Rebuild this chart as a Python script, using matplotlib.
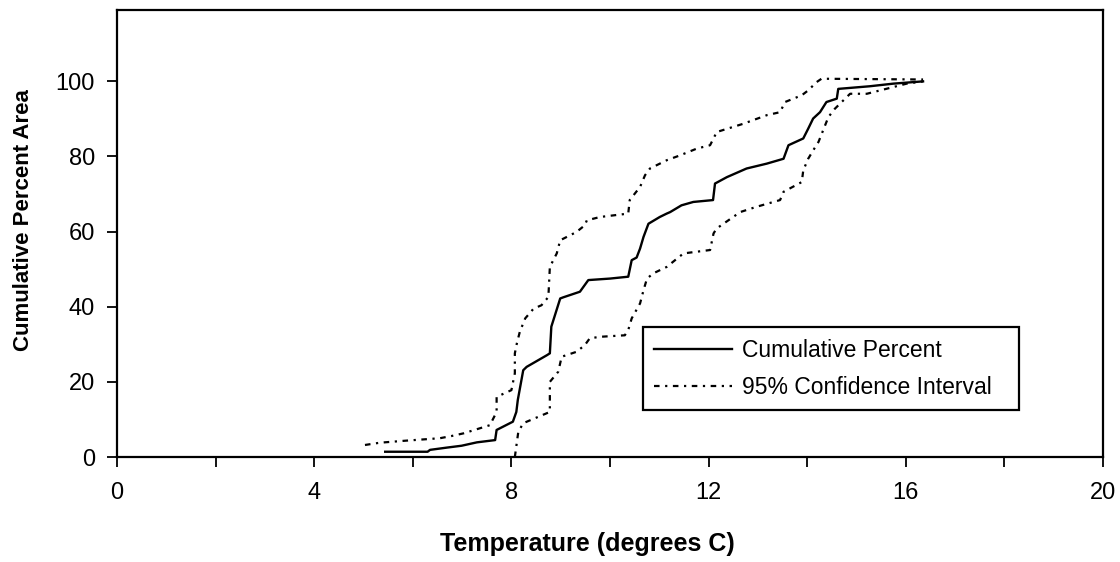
import matplotlib
matplotlib.use('Agg')
import matplotlib.pyplot as plt
from matplotlib.ticker import MultipleLocator

plt.rcParams['font.family'] = ['Liberation Sans', 'DejaVu Sans']

# cumulative percent area vs temperature
cum_x = [5.44, 6.30, 6.35, 6.69, 6.99, 7.30, 7.67, 7.70, 8.03, 8.10, 8.13, 8.24, 8.31,
         8.72, 8.78, 8.81, 8.99, 9.05, 9.39, 9.56, 10.0, 10.37, 10.44, 10.54, 10.61,
         10.68, 10.78, 11.01, 11.15, 11.22, 11.45, 11.69, 12.09, 12.13, 12.37, 12.77,
         13.18, 13.52, 13.62, 13.92, 14.02, 14.12, 14.26, 14.39, 14.60, 14.63, 15.27,
         15.75, 16.35]
cum_y = [1.4, 1.4, 1.9, 2.5, 3.0, 3.9, 4.5, 7.2, 9.4, 12.0, 15.2, 23.1, 24.0,
         27.1, 27.6, 34.7, 42.2, 42.5, 44.0, 47.1, 47.5, 48.0, 52.4, 53.1, 55.5,
         58.6, 62.1, 63.9, 64.8, 65.2, 67.0, 67.9, 68.4, 72.8, 74.5, 76.8,
         78.1, 79.4, 83.0, 84.8, 87.4, 90.1, 91.8, 94.5, 95.4, 98.0, 98.7,
         99.4, 100.0]

# upper 95% bound
up_x = [5.03, 5.33, 5.81, 6.55, 6.79, 7.03, 7.30, 7.57, 7.60, 7.70, 7.70, 8.00, 8.07,
        8.07, 8.11, 8.17, 8.24, 8.28, 8.45, 8.61, 8.75, 8.78, 8.92, 8.99, 9.32, 9.49,
        9.53, 9.80, 10.37, 10.40, 10.61, 10.71, 10.81, 11.15, 11.42, 11.76, 12.03,
        12.13, 12.16, 12.70, 13.18, 13.45, 13.55, 13.89, 14.02, 14.19, 14.29, 16.35]
up_y = [3.2, 3.8, 4.3, 5.0, 5.6, 6.3, 7.4, 8.5, 9.4, 12.0, 16.0, 17.8, 22.3,
        27.6, 30.2, 33.3, 35.6, 36.9, 39.5, 40.4, 42.6, 50.6, 54.2, 57.7, 59.9, 61.7,
        63.0, 63.9, 64.8, 68.4, 71.9, 75.0, 76.8, 79.0, 80.3, 82.1, 83.0,
        85.6, 86.5, 88.7, 91.0, 91.8, 94.5, 96.3, 97.6, 99.8, 100.7, 100.5]

# lower 95% bound
lo_x = [8.07, 8.14, 8.24, 8.78, 8.78, 8.95, 9.02, 9.32, 9.49, 9.59, 9.80, 10.30, 10.37,
        10.44, 10.61, 10.68, 10.75, 10.88, 11.15, 11.49, 12.03, 12.10, 12.16, 12.40,
        12.64, 12.97, 13.45, 13.52, 13.89, 13.92, 14.02, 14.12, 14.23, 14.43, 14.56,
        14.87, 15.21, 15.48, 15.75, 16.02, 16.35]
lo_y = [0.0, 6.7, 9.0, 12.0, 20.0, 22.7, 26.7, 28.0, 29.8, 31.6, 32.0, 32.4, 33.8,
        36.9, 40.9, 44.4, 47.5, 48.9, 50.6, 54.2, 55.1, 59.5, 60.8, 63.0,
        65.2, 66.6, 68.4, 70.6, 73.2, 76.3, 79.4, 81.6, 83.9, 90.5, 92.7,
        96.7, 96.7, 97.6, 98.5, 99.4, 100.0]

DASH = (0, (2.5, 2.5, 1, 2.5))

fig = plt.figure(figsize=(11.2, 5.62), dpi=100)
ax = fig.add_axes([117 / 1120, 105 / 562, 986 / 1120, 447 / 562])

ax.plot(cum_x, cum_y, color='black', lw=1.7, label='Cumulative Percent')
ax.plot(up_x, up_y, color='black', lw=1.6, ls=DASH, label='95% Confidence Interval')
ax.plot(lo_x, lo_y, color='black', lw=1.6, ls=DASH)

ax.set_xlim(0, 20)
ax.set_ylim(0, 119)
ax.set_xticks([0, 4, 8, 12, 16, 20])
ax.xaxis.set_minor_locator(MultipleLocator(2))
ax.set_yticks([0, 20, 40, 60, 80, 100])
ax.tick_params(which='both', direction='out', length=7, width=1.3, labelsize=17,
               color='black')
ax.tick_params(axis='x', which='both', pad=11)
ax.tick_params(axis='y', pad=9)
for sp in ax.spines.values():
    sp.set_linewidth(1.6)

ax.set_xlabel('Temperature (degrees C)', fontsize=18, fontweight='bold')
ax.set_ylabel('Cumulative Percent Area', fontsize=16, fontweight='bold')
ax.xaxis.set_label_coords(587 / 1120, 30 / 562, transform=fig.transFigure)
ax.yaxis.set_label_coords(34 / 1120, 342 / 562, transform=fig.transFigure)

leg = ax.legend(loc='lower left', bbox_to_anchor=(643 / 1120, 152 / 562, 376 / 1120, 80 / 562),
                bbox_transform=fig.transFigure, mode='expand', fontsize=16.5,
                fancybox=False, framealpha=1, edgecolor='black', handlelength=3.4,
                handletextpad=0.4, borderaxespad=0, borderpad=0.5, labelspacing=0.6)
leg.get_frame().set_linewidth(1.6)

fig.savefig('out.png', dpi=100)
